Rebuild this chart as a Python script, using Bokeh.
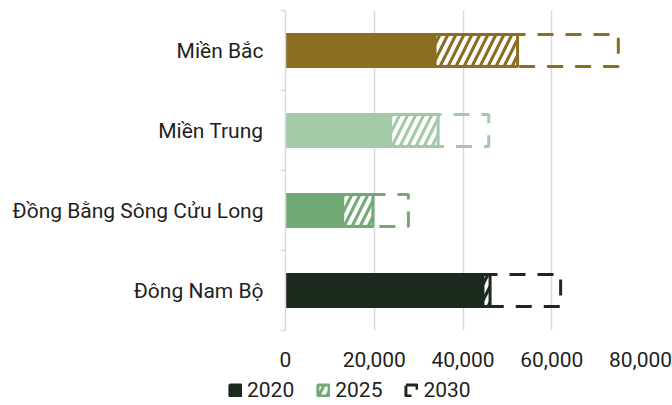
from bokeh.plotting import figure
from bokeh.layouts import column
from bokeh.models import (Range1d, FixedTicker, NumeralTickFormatter, Legend,
                          LegendItem, ColumnDataSource)
from bokeh.embed import file_html
from bokeh.resources import INLINE

# Regions, listed top to bottom
regions = ["Miền Bắc", "Miền Trung", "Đồng Bằng Sông Cửu Long", "Đông Nam Bộ"]
colors = ["#8C6E23", "#A3C9A6", "#72AA76", "#1B2A1C"]

# Values per year
v2020 = [33700, 23700, 12900, 44500]
v2025 = [52300, 34400, 19700, 46100]
v2030 = [75000, 45800, 27700, 62000]

x_ticks = [0, 20000, 40000, 60000, 80000]

n = len(regions)
ypos = [n - i - 0.5 for i in range(n)]

src = ColumnDataSource(dict(y=ypos, region=regions, color=colors,
                            v2020=v2020, v2025=v2025, v2030=v2030))

TEXT = "#1f1f1f"
GRID = "#d9d9d9"
BAR_H = 0.4
FONT = "Roboto"
FS = "21px"

STYLE_2030 = dict(fill_color=None, line_color="color", line_width=3,
                  line_dash="16 12")
STYLE_2025 = dict(fill_color="color", line_color="color", line_width=3,
                  hatch_pattern="/", hatch_color="white", hatch_scale=16,
                  hatch_weight=4)
STYLE_2020 = dict(fill_color="color", line_color="color", line_width=3)

p = figure(width=672, height=375, output_backend="svg", toolbar_location=None,
           x_range=Range1d(0, 80000), y_range=Range1d(0, n),
           min_border_left=285, min_border_right=32, min_border_top=10,
           min_border_bottom=45, frame_align=False)
p.outline_line_color = None
p.background_fill_color = "white"
p.border_fill_color = "white"

# drawn back to front: 2030 outline, 2025 hatched, 2020 solid
p.hbar(y="y", left=0, right="v2030", height=BAR_H, source=src, **STYLE_2030)
p.hbar(y="y", left=0, right="v2025", height=BAR_H, source=src, **STYLE_2025)
p.hbar(y="y", left=0, right="v2020", height=BAR_H, source=src, **STYLE_2020)

# x axis
p.xaxis.ticker = FixedTicker(ticks=x_ticks)
p.xaxis.formatter = NumeralTickFormatter(format="0,0")
p.xaxis.axis_line_color = None
p.xaxis.major_tick_line_color = None
p.xaxis.minor_tick_line_color = None
p.xaxis.major_label_text_font = FONT
p.xaxis.major_label_text_font_size = FS
p.xaxis.major_label_text_color = TEXT
p.xaxis.major_label_standoff = 15
p.xgrid.ticker = FixedTicker(ticks=x_ticks)
p.xgrid.grid_line_color = GRID
p.xgrid.grid_line_width = 1.5
p.ygrid.grid_line_color = None

# y axis: labels at band centres, small ticks at band boundaries
p.yaxis.ticker = FixedTicker(ticks=ypos, minor_ticks=list(range(n + 1)))
p.yaxis.major_label_overrides = {y: r for y, r in zip(ypos, regions)}
p.yaxis.axis_line_color = GRID
p.yaxis.axis_line_width = 1.5
p.yaxis.major_tick_line_color = None
p.yaxis.major_tick_out = 0
p.yaxis.major_tick_in = 0
p.yaxis.minor_tick_line_color = GRID
p.yaxis.minor_tick_line_width = 1.5
p.yaxis.minor_tick_out = 5
p.yaxis.minor_tick_in = 0
p.yaxis.major_label_standoff = 17
p.yaxis.major_label_text_font = FONT
p.yaxis.major_label_text_font_size = FS
p.yaxis.major_label_text_color = TEXT

# Legend strip underneath: renderers share the bar styles but have no
# drawable position, so only their legend swatches appear
NAN = float("nan")
lf = figure(width=672, height=30, output_backend="svg", toolbar_location=None,
            x_range=Range1d(0, 1), y_range=Range1d(0, 1),
            min_border=0, frame_align=False)
lf.outline_line_color = None
lf.axis.visible = False
lf.grid.visible = False
l2020 = lf.hbar(y=NAN, left=0, right=1, height=BAR_H, source=src, **STYLE_2020)
l2025 = lf.hbar(y=NAN, left=0, right=1, height=BAR_H, source=src, **STYLE_2025)
l2030 = lf.hbar(y=NAN, left=0, right=1, height=BAR_H, source=src, **STYLE_2030)

legend = Legend(items=[
    LegendItem(label="2020", renderers=[l2020], index=3),
    LegendItem(label="2025", renderers=[l2025], index=2),
    LegendItem(label="2030", renderers=[l2030], index=3),
], orientation="horizontal", location=(228, 3))
legend.glyph_width = 14
legend.glyph_height = 14
legend.label_standoff = 5
legend.spacing = 22
legend.padding = 0
legend.margin = 0
legend.border_line_color = None
legend.background_fill_alpha = 0
legend.label_text_font = FONT
legend.label_text_font_size = FS
legend.label_text_color = TEXT
lf.add_layout(legend, "center")

layout = column(p, lf, spacing=0)
open("out.html", "w").write(file_html(layout, INLINE))
